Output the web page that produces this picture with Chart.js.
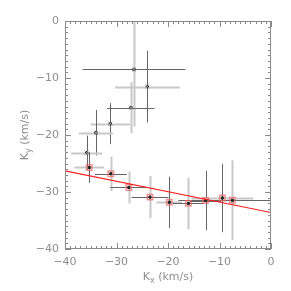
<!DOCTYPE html>
<html>
<head>
<meta charset="utf-8">
<script src="https://cdn.jsdelivr.net/npm/chart.js@4.4.1/dist/chart.umd.min.js"></script>
<style>
  html, body { margin: 0; padding: 0; background: #fff; }
  canvas { display: block; }
</style>
</head>
<body>
<canvas id="kChart" width="291" height="291"></canvas>
<script>
// values
var upperX = [-26.6, -24.0, -27.2, -31.2, -34.0, -35.8];
var upperY = [-8.5, -11.5, -15.2, -18.0, -19.6, -23.1];
var upperXerr = [10, 6.3, 4.6, 3.8, 3.3, 3.0];
var upperYerr = [10, 6.3, 4.5, 3.6, 4.0, 3.0];

var lowerX = [-35.3, -31.1, -27.6, -23.5, -19.75, -16.05, -12.7, -9.45, -7.5];
var lowerY = [-25.7, -26.8, -29.2, -30.9, -31.8, -32.0, -31.5, -31.05, -31.45];
var lowerXerr = [2.9, 3.1, 3.6, 3.6, 2.5, 3.0, 3.0, 6.0, 10.5];
var lowerYerr = [2.7, 3.0, 2.8, 3.7, 4.5, 4.5, 5.2, 6.0, 7.0];

// red fit line end points
var fitX = [-40, 0];
var fitY = [-26.3, -33.6];

var xTicks = [-40, -30, -20, -10, 0];
var yTicks = [-40, -30, -20, -10, 0];

// which error bar is drawn light (1) or dark (0): [horizontal, vertical]
var upperShade = [[0, 1], [1, 0], [0, 1], [1, 0], [1, 0], [1, 0]];
var lowerShade = [[1, 0], [0, 1], [0, 1], [0, 1], [1, 0], [0, 1], [0, 0], [1, 0], [0, 1]];

function pts(xs, ys) {
  return xs.map(function (x, i) { return { x: x, y: ys[i] }; });
}
function minus(v) { return String(v).replace('-', '\u2212'); }

var txtColor = '#8e8e8e';
var fontFam = '"DejaVu Sans", sans-serif';

// error bars, drawn before the markers
var errorBars = {
  id: 'errorBars',
  beforeDatasetsDraw: function (chart) {
    var c = chart.ctx, xs = chart.scales.x, ys = chart.scales.y, a = chart.chartArea;
    c.save();
    c.beginPath();
    c.rect(a.left, a.top, a.right - a.left, a.bottom - a.top);
    c.clip();
    function bars(X, Y, XE, YE, shade) {
      for (var i = 0; i < X.length; i++) {
        var px = xs.getPixelForValue(X[i]), py = ys.getPixelForValue(Y[i]);
        var h = [xs.getPixelForValue(X[i] - XE[i]), xs.getPixelForValue(X[i] + XE[i])];
        var v = [ys.getPixelForValue(Y[i] - YE[i]), ys.getPixelForValue(Y[i] + YE[i])];
        [0, 1].forEach(function (k) {
          var light = shade[i][k];
          c.strokeStyle = light ? '#c8c8c8' : '#666';
          c.lineWidth = light ? 2 : 1;
          c.beginPath();
          if (k === 0) { c.moveTo(h[0], Math.round(py) + 0.5); c.lineTo(h[1], Math.round(py) + 0.5); }
          else { c.moveTo(Math.round(px) + 0.5, v[0]); c.lineTo(Math.round(px) + 0.5, v[1]); }
          c.stroke();
        });
      }
    }
    bars(upperX, upperY, upperXerr, upperYerr, upperShade);
    bars(lowerX, lowerY, lowerXerr, lowerYerr, lowerShade);
    c.restore();
  }
};

// box frame with inward ticks on all sides, and axis titles
var frame = {
  id: 'frame',
  afterDraw: function (chart) {
    var c = chart.ctx, xs = chart.scales.x, ys = chart.scales.y, a = chart.chartArea;
    c.save();
    c.strokeStyle = '#8a8a8a';
    c.lineWidth = 1;
    c.strokeRect(a.left + 0.5, a.top + 0.5, a.right - a.left - 1, a.bottom - a.top - 1);
    c.beginPath();
    for (var v = -40; v <= 0; v++) {
      var len = (v % 10 === 0) ? 6 : 3;
      var px = Math.round(xs.getPixelForValue(v)) + 0.5;
      c.moveTo(px, a.bottom); c.lineTo(px, a.bottom - len);
      c.moveTo(px, a.top); c.lineTo(px, a.top + len);
      var py = Math.round(ys.getPixelForValue(v)) + 0.5;
      c.moveTo(a.left, py); c.lineTo(a.left + len, py);
      c.moveTo(a.right, py); c.lineTo(a.right - len, py);
    }
    c.stroke();

    c.fillStyle = txtColor;
    c.textBaseline = 'alphabetic';
    drawTitle(c, ['K', 'x', ' (km/s)'], (a.left + a.right) / 2, 280, 0);
    drawTitle(c, ['K', 'y', ' (km/s)'], 28, (a.top + a.bottom) / 2, -Math.PI / 2);
    c.restore();
  }
};

// K with a small subscript, then the unit
function drawTitle(c, parts, cx, cy, rot) {
  c.save();
  c.translate(cx, cy);
  c.rotate(rot);
  c.font = '11px ' + fontFam;
  var w0 = c.measureText(parts[0]).width;
  var w2 = c.measureText(parts[2]).width;
  c.font = '8px ' + fontFam;
  var w1 = c.measureText(parts[1]).width;
  var x = -(w0 + w1 + w2) / 2;
  c.textAlign = 'left';
  c.font = '11px ' + fontFam;
  c.fillText(parts[0], x, 0);
  c.font = '8px ' + fontFam;
  c.fillText(parts[1], x + w0, 3);
  c.font = '11px ' + fontFam;
  c.fillText(parts[2], x + w0 + w1, 0);
  c.restore();
}

var ctx = document.getElementById('kChart');
var kChart = new Chart(ctx, {
  type: 'scatter',
  data: {
    datasets: [
      {
        type: 'line',
        data: pts(fitX, fitY),
        borderColor: '#ff2020',
        borderWidth: 1.2,
        pointRadius: 0,
        fill: false
      },
      {
        data: pts(upperX, upperY),
        pointStyle: 'crossRot',
        pointRadius: 3,
        borderColor: '#aaa',
        borderWidth: 1
      },
      {
        data: pts(upperX, upperY),
        pointStyle: 'rect',
        pointRadius: 1.6,
        backgroundColor: '#222',
        borderColor: '#222',
        borderWidth: 1
      },
      {
        data: pts(lowerX, lowerY),
        pointStyle: 'rect',
        pointRadius: 3.8,
        backgroundColor: 'rgba(255,255,255,0)',
        borderColor: 'rgba(235,100,100,0.7)',
        borderWidth: 1.5
      },
      {
        data: pts(lowerX, lowerY),
        pointStyle: 'rect',
        pointRadius: 1.5,
        backgroundColor: '#222',
        borderColor: '#222',
        borderWidth: 1
      }
    ]
  },
  options: {
    responsive: false,
    animation: false,
    devicePixelRatio: 1,
    layout: { padding: { top: 21, right: 20, left: 0, bottom: 0 } },
    plugins: { legend: { display: false }, tooltip: { enabled: false } },
    scales: {
      x: {
        type: 'linear',
        min: -40, max: 0,
        afterBuildTicks: function (s) { s.ticks = xTicks.map(function (v) { return { value: v }; }); },
        afterFit: function (s) { s.height = 42; },
        grid: { display: false, drawTicks: false },
        border: { display: false },
        ticks: {
          padding: 7,
          color: txtColor,
          font: { family: fontFam, size: 11 },
          maxRotation: 0,
          callback: function (v) { return minus(v); }
        }
      },
      y: {
        type: 'linear',
        min: -40, max: 0,
        afterBuildTicks: function (s) { s.ticks = yTicks.map(function (v) { return { value: v }; }); },
        afterFit: function (s) { s.width = 65; },
        grid: { display: false, drawTicks: false },
        border: { display: false },
        ticks: {
          padding: 6,
          color: txtColor,
          font: { family: fontFam, size: 11 },
          callback: function (v) { return minus(v); }
        }
      }
    }
  },
  plugins: [errorBars, frame]
});
</script>
</body>
</html>
